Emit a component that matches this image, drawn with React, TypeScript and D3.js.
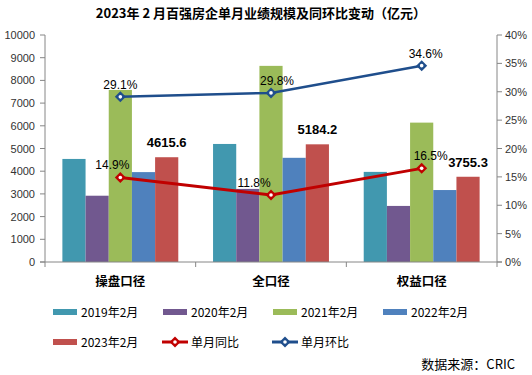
import React from "react";
import * as d3 from "d3";

const categories = ["操盘口径", "全口径", "权益口径"];
const seriesNames = ["2019年2月", "2020年2月", "2021年2月", "2022年2月", "2023年2月"];
const v2019 = [4540, 5200, 3970];
const v2020 = [2920, 3220, 2470];
const v2021 = [7580, 8640, 6140];
const v2022 = [3960, 4590, 3170];
const v2023 = [4615.6, 5184.2, 3755.3];
const yoy = [14.9, 11.8, 16.5];
const mom = [29.1, 29.8, 34.6];
const leftTicks = [0, 1000, 2000, 3000, 4000, 5000, 6000, 7000, 8000, 9000, 10000];
const rightTicks = [0, 5, 10, 15, 20, 25, 30, 35, 40];

const barColors = ["#4198AF", "#71588F", "#9BBB59", "#4F81BD", "#C0504D"];
const yoyColor = "#C00000";
const momColor = "#1F4E8C";
const yoyDx = [-8, -17, 9];
const momDx = [0, 6, 4];

const W = 532, H = 375;
const M = { left: 45, right: 497, top: 35, bottom: 262 };

export default function App() {
  const bars = [v2019, v2020, v2021, v2022, v2023];
  const x = d3.scaleBand().domain(categories).range([M.left, M.right]);
  const xi = d3.scaleBand().domain(seriesNames).range([0, x.bandwidth()]).paddingOuter(0.75).paddingInner(0);
  const yL = d3.scaleLinear().domain([0, 10000]).range([M.bottom, M.top]);
  const yR = d3.scaleLinear().domain([0, 40]).range([M.bottom, M.top]);
  const cx = (c: string) => (x(c) as number) + x.bandwidth() / 2;
  const line = d3.line<number>().x((_, i) => cx(categories[i])).y((d) => yR(d));
  const diamond = (px: number, py: number, col: string, key: string) => (
    <g key={key}>
      <path d={`M${px},${py - 5.5}L${px + 5.5},${py}L${px},${py + 5.5}L${px - 5.5},${py}Z`} fill={col} />
      <circle cx={px} cy={py} r={1.8} fill="#fff" />
    </g>
  );
  const font = "'Liberation Sans', Arial, sans-serif";
  const cjk = "'Noto Sans CJK SC', sans-serif";
  const axisCol = "#868686";

  return (
    <svg width={W} height={H} style={{ position: "absolute", left: 0, top: 0, background: "#fff" }}>
      <text x={261} y={18} textAnchor="middle" fontFamily={cjk} fontWeight="bold" fontSize={13} fill="#000">
        2023年 2 月百强房企单月业绩规模及同环比变动（亿元）
      </text>
      {bars.map((vals, si) =>
        categories.map((c, ci) => (
          <rect key={`b${si}-${ci}`} x={(x(c) as number) + (xi(seriesNames[si]) as number)} y={yL(vals[ci])}
            width={xi.bandwidth()} height={M.bottom - yL(vals[ci])} fill={barColors[si]} />
        ))
      )}
      <line x1={M.left} x2={M.left} y1={M.top} y2={M.bottom} stroke={axisCol} />
      <line x1={M.right} x2={M.right} y1={M.top} y2={M.bottom} stroke={axisCol} />
      <line x1={M.left - 5} x2={M.right + 5} y1={M.bottom} y2={M.bottom} stroke={axisCol} />
      {leftTicks.map((t) => (
        <g key={`l${t}`}>
          <line x1={M.left - 5} x2={M.left} y1={yL(t)} y2={yL(t)} stroke={axisCol} />
          <text x={M.left - 10} y={yL(t) + 4} textAnchor="end" fontFamily={font} fontSize={11} fill="#333">{t}</text>
        </g>
      ))}
      {rightTicks.map((t) => (
        <g key={`r${t}`}>
          <line x1={M.right} x2={M.right + 5} y1={yR(t)} y2={yR(t)} stroke={axisCol} />
          <text x={M.right + 8} y={yR(t) + 4} textAnchor="start" fontFamily={font} fontSize={11} fill="#333">{t}%</text>
        </g>
      ))}
      {[...categories.map((c) => x(c) as number), M.right].map((px, i) => (
        <line key={`ct${i}`} x1={px} x2={px} y1={M.bottom} y2={M.bottom + 5} stroke={axisCol} />
      ))}
      {categories.map((c) => (
        <text key={`cl${c}`} x={cx(c)} y={286} textAnchor="middle" fontFamily={cjk} fontWeight="bold" fontSize={12.5} fill="#000">{c}</text>
      ))}
      {categories.map((c, ci) => (
        <text key={`vl${ci}`} x={(x(c) as number) + (xi(seriesNames[4]) as number) + xi.bandwidth() / 2} y={yL(v2023[ci]) - 10}
          textAnchor="middle" fontFamily={font} fontWeight="bold" fontSize={13} fill="#000">{v2023[ci].toFixed(1)}</text>
      ))}
      <path d={line(mom) as string} fill="none" stroke={momColor} strokeWidth={2.5} />
      <path d={line(yoy) as string} fill="none" stroke={yoyColor} strokeWidth={3} />
      {mom.map((v, i) => diamond(cx(categories[i]), yR(v), momColor, `mm${i}`))}
      {yoy.map((v, i) => diamond(cx(categories[i]), yR(v), yoyColor, `ym${i}`))}
      {mom.map((v, i) => (
        <text key={`ml${i}`} x={cx(categories[i]) + momDx[i]} y={yR(v) - 8} textAnchor="middle" fontFamily={font} fontSize={12} fill="#000">{v.toFixed(1)}%</text>
      ))}
      {yoy.map((v, i) => (
        <text key={`yl${i}`} x={cx(categories[i]) + yoyDx[i]} y={yR(v) - 8} textAnchor="middle" fontFamily={font} fontSize={12} fill="#000">{v.toFixed(1)}%</text>
      ))}
      {seriesNames.map((s, i) => {
        const lx = 53 + (i % 4) * 110;
        const ly = i < 4 ? 312 : 342;
        return (
          <g key={`lg${i}`}>
            <rect x={lx} y={ly - 3} width={24} height={6} fill={barColors[i]} />
            <text x={lx + 28} y={ly + 5} fontFamily={cjk} fontSize={12} fill="#000">{s}</text>
          </g>
        );
      })}
      {[["单月同比", yoyColor], ["单月环比", momColor]].map(([s, col], i) => {
        const lx = 162 + i * 110;
        const ly = 342;
        return (
          <g key={`ll${i}`}>
            <line x1={lx} x2={lx + 26} y1={ly} y2={ly} stroke={col} strokeWidth={3} />
            {diamond(lx + 13, ly, col, `ld${i}`)}
            <text x={lx + 29} y={ly + 5} fontFamily={cjk} fontSize={12} fill="#000">{s}</text>
          </g>
        );
      })}
      <text x={515} y={369} textAnchor="end" fontFamily={cjk} fontSize={13} fill="#000">数据来源：CRIC</text>
    </svg>
  );
}
